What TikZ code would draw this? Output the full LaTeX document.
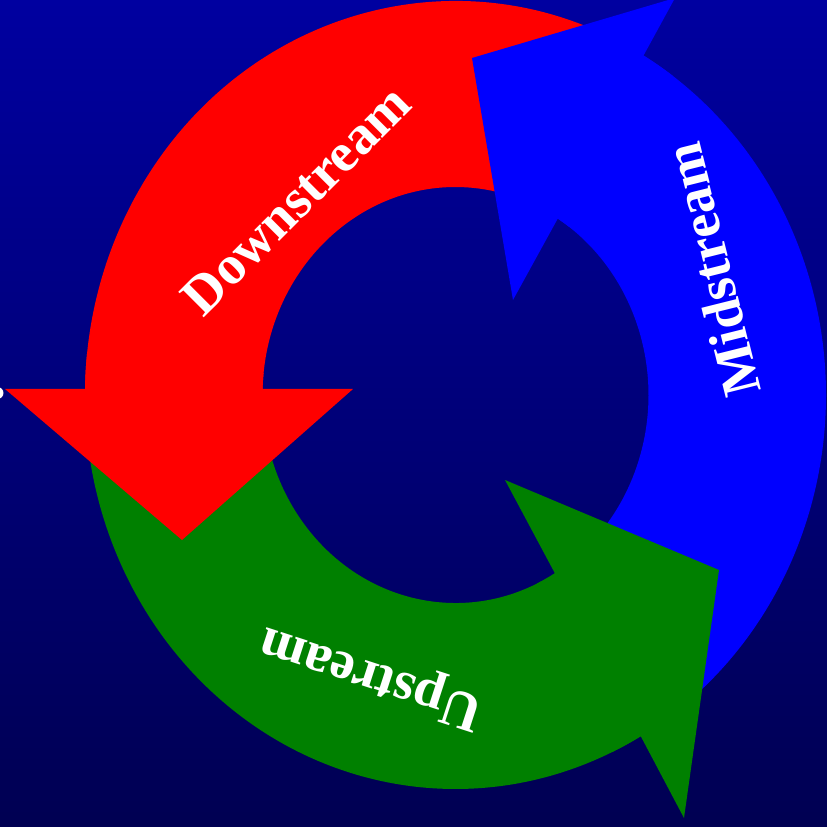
\documentclass[tikz,border=0pt]{standalone}
\usepackage{fontspec}
\setmainfont{Liberation Serif}
\begin{document}
\begin{tikzpicture}[x=1pt,y=1pt]
  % ring radii (slightly elliptical ring)
  \def\RXo{370.5}\def\RYo{394}
  \def\RXi{193}\def\RYi{208}
  \definecolor{bgtop}{RGB}{0,0,160}
  \definecolor{bgbot}{RGB}{0,0,82}
  \definecolor{cycred}{RGB}{255,0,0}
  \definecolor{cycblue}{RGB}{0,0,255}
  \definecolor{cycgreen}{RGB}{0,128,0}
  \tikzset{
    label text/.style={text=white, font=\bfseries\fontsize{55}{60}\selectfont, inner sep=0pt},
  }
  % canvas
  \useasboundingbox (-455.5,-432) rectangle (371.5,395);
  \clip (-455.5,-432) rectangle (371.5,395);
  \shade[top color=bgtop, bottom color=bgbot] (-455.5,-432) rectangle (371.5,395);

  % small white mark at the left edge
  \fill[white] (-458,2) circle[radius=6];

  % ---- ring bands ----
  % red band (upper left)
  \fill[cycred] ({\RXo*cos(60)},{\RYo*sin(60)})
      arc[start angle=60, end angle=179.1, x radius=\RXo, y radius=\RYo]
      -- ({\RXi*cos(178.3)},{\RYi*sin(178.3)})
      arc[start angle=178.3, end angle=60, x radius=\RXi, y radius=\RYi] -- cycle;
  % blue band (right)
  \fill[cycblue] ({\RXo*cos(-55)},{\RYo*sin(-55)})
      arc[start angle=-55, end angle=59.5, x radius=\RXo, y radius=\RYo]
      -- ({\RXi*cos(58)},{\RYi*sin(58)})
      arc[start angle=58, end angle=-55, x radius=\RXi, y radius=\RYi] -- cycle;
  % green band (bottom)
  \fill[cycgreen] ({\RXo*cos(-175)},{\RYo*sin(-175)})
      arc[start angle=-175, end angle=-60, x radius=\RXo, y radius=\RYo]
      -- ({\RXi*cos(-59)},{\RYi*sin(-59)})
      arc[start angle=-59, end angle=-175, x radius=\RXi, y radius=\RYi] -- cycle;

  % ---- arrow heads ----
  \fill[cycred] ({\RXo*cos(174)},{\RYo*sin(174)})
      arc[start angle=174, end angle=179.1, x radius=\RXo, y radius=\RYo]
      -- (-450.5,6) coordinate (redouter) -- (-273.5,-145) coordinate (redtip)
      -- (-102.5,6) coordinate (redinner)
      -- ({\RXi*cos(178.3)},{\RYi*sin(178.3)})
      arc[start angle=178.3, end angle=174, x radius=\RXi, y radius=\RYi] -- cycle;
  \fill[cycblue] ({\RXo*cos(54)},{\RYo*sin(54)})
      arc[start angle=54, end angle=59.5, x radius=\RXo, y radius=\RYo]
      -- (219.5,397) coordinate (blueouter) -- (16.5,337) coordinate (bluetip)
      -- (57.5,95) coordinate (blueinner)
      -- ({\RXi*cos(58)},{\RYi*sin(58)})
      arc[start angle=58, end angle=54, x radius=\RXi, y radius=\RYi] -- cycle;
  \fill[cycgreen] ({\RXo*cos(-65)},{\RYo*sin(-65)})
      arc[start angle=-65, end angle=-60, x radius=\RXo, y radius=\RYo]
      -- (228.5,-423) coordinate (greenouter) -- (263.5,-175) coordinate (greentip)
      -- (49.5,-85) coordinate (greeninner)
      -- ({\RXi*cos(-59)},{\RYi*sin(-59)})
      arc[start angle=-59, end angle=-65, x radius=\RXi, y radius=\RYi] -- cycle;

  % ---- labels ----
  \node[label text, rotate=45] (down) at (-159.5,195) {Downstream};
  \node[label text, rotate=104] (mid) at (256.5,125) {Midstream};
  \node[label text, rotate=162] (up) at (-83.5,-280) {Upstream};
\end{tikzpicture}
\end{document}
